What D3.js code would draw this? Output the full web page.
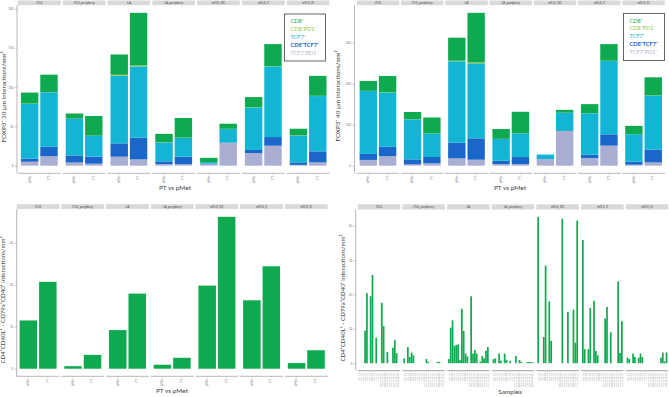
<!DOCTYPE html>
<html><head><meta charset="utf-8">
<script src="https://cdn.jsdelivr.net/npm/d3@7"></script>
<style>body{margin:0;background:#fff}svg{display:block;font-family:Lato,"Open Sans",sans-serif}</style>
</head><body><svg id="c" width="669" height="397"></svg>
<script>
// ---------- data ----------
const facets = ["iTLS","iTLS_periphery","LA","LA_periphery","mTLS_GC","mTLS_II","mTLS_III"];
const groups = ["pMet","PT"];
const cellTypes = ["TCF7+PD1+","CD8+TCF7+","TCF7+","CD8+PD1+","CD8+"]; // bottom -> top
const legendLabels = ["CD8⁺","CD8⁺PD1⁺","TCF7⁺","CD8⁺TCF7⁺","TCF7⁺PD1⁺"];
// values ordered facet x group (pMet, PT)
const tcf7pd1_30 = [5,12, 4,2.5, 11.4,8, 2,2, 2,29.2, 16,25.4, 1,4.2];
const cd8tcf7_30 = [4,12, 9,9, 17,27.6, 3.5,9.4, 0.5,0, 4,11, 3.2,14];
const tcf7_30    = [69.5,69.5, 47,26.7, 86,90.7, 24,24, 2,17.4, 54,90, 34,70.4];
const cd8pd1_30  = [0.5,0.3, 0,0, 1.3,1.2, 0.3,0.3, 0,0.3, 0.3,0.3, 0.3,0.3];
const cd8_30     = [14,22, 6.4,25, 25.8,67, 10.7,25, 5.5,6.5, 13,28, 8.5,25.4];

const tcf7pd1_40 = [14,23, 3.3,5.7, 18,14.6, 4,4, 16,84.6, 18.7,48.8, 2.4,8];
const cd8tcf7_40 = [14.5,23, 12,15.4, 38,52, 8,17, 0,0, 8,27.6, 7.4,31];
const tcf7_40    = [153.5,132, 97.6,57, 198.5,183, 53,58, 11,44, 101,178.9, 67,132];
const cd8pd1_40  = [0.5,0.7, 0.4,0.3, 1.5,3, 0.4,0.4, 0,0.5, 0.3,0.5, 0.3,0.4];
const cd8_40     = [24,40, 17.6,39, 56,120, 24,52, 0,7, 22,40.5, 20,44];

const cd40Agg = [11.5,20.7, 0.6,3.3, 9.2,17.9, 0.95,2.6, 19.8,36.2, 16.3,24.4, 1.35,4.4];

const sampleNames = ["P01_PT","P02_PT","P03_PT","P04_PT","P05_PT","P06_PT","P07_PT","P08_PT","P09_PT","P10_PT","P11_PT",
  "P01_pMet_LN","P02_pMet_LN","P03_pMet_LN","P04_pMet_LN","P05_pMet_LN","P06_pMet_LN","P07_pMet_LN","P08_pMet_LN","P09_pMet_LN","P10_pMet_LN","P11_pMet_LN"];
const samp_iTLS      = [0,0,0,9.5,20.4,0,19.5,25.7,0,7.4,0,0,17.6,10.8,0,3.3,0,0,4.5,6.7,2.9,0];
const samp_iTLS_per  = [1.4,0,4.7,1.8,3.1,2.3,0,0,0,0,0,0,1.2,0.4,0,0,0,0,0.4,0.4,0,0];
const samp_LA        = [1.2,10.3,12.5,5.0,5.3,5.5,0.9,15.8,9.4,2.8,2.0,0,19.5,2.8,3.8,2.8,0,0.5,2.1,1.4,3.6,4.7];
const samp_LA_per    = [1.2,1.4,0,2.8,0.7,0,2.8,1.0,0,0.7,0,0,2.1,0,0.9,0.4,0,0,0.3,0.3,0.3,0.3];
const samp_mTLS_GC   = [42.6,0,0,7.6,28.4,0,18,6.5,0,0,0,0,0,42.1,0,0,14.9,0,0,15.6,6.0,41.5];
const samp_mTLS_II   = [35.9,4.1,0,4.1,16.1,0,18.2,3.6,2.3,0,0,0,13.0,16.4,0,9.0,0,0,0,23.8,3.0,12.2];
const samp_mTLS_III  = [1.6,1.2,0,2.8,1.8,0,1.6,2.8,1.8,0,0,0,0,0,0,0,0,0,1.6,3.1,0.5,3.1];

const ticks30 = [0,50,100,150,200];
const ticks40 = [0,100,200,300];
const ticksAgg = [0,10,20,30];
const ticksSamp = [0,10,20,30,40];

// ---------- styles ----------
const colors = {"TCF7+PD1+":"#a9aed2","CD8+TCF7+":"#1a66c9","TCF7+":"#14b4d4","CD8+PD1+":"#8dc63f","CD8+":"#0fa94f"};
const legendColors = ["#0fa94f","#8dc63f","#14b4d4","#1a66c9","#b3b7cf"];
const green = "#0fa94f";
const svg = d3.select("#c");

function panel(cfg){
  const g = svg.append("g");
  const y = d3.scaleLinear().domain([-0.05*cfg.max, 1.05*cfg.max]).range([cfg.axisY, cfg.plotTop]);
  const ya = g.append("g").attr("transform",`translate(${cfg.axisX},0)`)
    .call(d3.axisLeft(y).tickValues(cfg.ticks).tickSize(2).tickPadding(1.5));
  ya.select(".domain").remove();
  ya.selectAll(".tick line").attr("stroke","#999").attr("stroke-width",0.6);
  ya.selectAll(".tick text").attr("font-size",3).attr("fill","#777").attr("font-family","Lato");
  g.append("line").attr("x1",cfg.axisX).attr("x2",cfg.axisX).attr("y1",cfg.plotTop).attr("y2",cfg.axisY)
    .attr("stroke","#999").attr("stroke-width",0.7);
  facets.forEach((f,i)=>{
    const x0 = cfg.fx0 + i*cfg.fstep, x1 = x0 + cfg.fw;
    g.append("rect").attr("x",x0).attr("y",cfg.stripTop).attr("width",cfg.fw).attr("height",cfg.stripH).attr("fill","#d9d9d9");
    g.append("text").attr("x",(x0+x1)/2).attr("y",cfg.stripTop+cfg.stripH/2+1.1).attr("text-anchor","middle")
      .attr("font-size",3.2).attr("fill","#444").text(f);
    const xb = d3.scaleBand().domain(cfg.cats).range([x0,x1]).paddingInner(cfg.pi).paddingOuter(cfg.po);
    cfg.draw(g, xb, y, i);
    g.append("line").attr("x1",x0).attr("x2",x1).attr("y1",cfg.axisY).attr("y2",cfg.axisY).attr("stroke","#999").attr("stroke-width",0.7);
    cfg.cats.forEach(c=>{
      const cx = xb(c)+xb.bandwidth()/2;
      g.append("line").attr("x1",cx).attr("x2",cx).attr("y1",cfg.axisY).attr("y2",cfg.axisY+1.5).attr("stroke","#999").attr("stroke-width",0.4);
      g.append("text").attr("transform",`translate(${cx+0.9},${cfg.axisY+2.5}) rotate(-90)`)
        .attr("text-anchor","end").attr("font-size",cfg.xlabSize).attr("fill","#888").text(c);
    });
  });
  g.append("text").attr("x",cfg.xtX).attr("y",cfg.xtY).attr("text-anchor","middle").attr("font-size",6.5).attr("fill","#444").text(cfg.xTitle);
  g.append("text").attr("transform",`translate(${cfg.ytX},${cfg.ytY}) rotate(-90)`).attr("text-anchor","middle")
    .attr("font-size",cfg.ytSize).attr("fill","#444").text(cfg.yTitle);
  return g;
}

function stackDraw(series){
  return (g, xb, y, fi)=>{
    groups.forEach((gr,gi)=>{
      const k = fi*2+gi;
      const row = {}; cellTypes.forEach((c,ci)=>row[c]=series[ci][k]);
      const st = d3.stack().keys(cellTypes)([row]);
      st.forEach(s=>{
        const d = s[0];
        if (d[1]-d[0] <= 0) return;
        g.append("rect").attr("x",xb(gr)).attr("width",xb.bandwidth())
          .attr("y",y(d[1])).attr("height",y(d[0])-y(d[1])).attr("fill",colors[s.key]);
      });
    });
  };
}
function legend(x,y){
  const g = svg.append("g");
  g.append("rect").attr("x",x).attr("y",y).attr("width",41).attr("height",47).attr("fill","#fff").attr("stroke","#555").attr("stroke-width",0.9);
  legendLabels.forEach((l,i)=>{
    g.append("text").attr("x",x+6).attr("y",y+9+i*7.9).attr("font-size",5.6).attr("fill",legendColors[i])
      .attr("font-weight", i===3?700:400).text(l);
  });
}
const s30 = [tcf7pd1_30,cd8tcf7_30,tcf7_30,cd8pd1_30,cd8_30];
const s40 = [tcf7pd1_40,cd8tcf7_40,tcf7_40,cd8pd1_40,cd8_40];
const max30 = d3.max(groups.flatMap((g,gi)=>facets.map((f,fi)=>d3.sum(s30,s=>s[fi*2+gi]))));
const max40 = d3.max(groups.flatMap((g,gi)=>facets.map((f,fi)=>d3.sum(s40,s=>s[fi*2+gi]))));

panel({max:max30, ticks:ticks30, axisX:17, axisY:173.3, plotTop:5.2, fx0:18, fstep:44.8, fw:42.6, stripTop:0.5, stripH:4.7,
  cats:groups, pi:0.1, po:0.15, xlabSize:3.2, draw:stackDraw(s30), xTitle:"PT vs pMet", xtX:175, xtY:190,
  yTitle:"FOXP3⁺ 30 µm interactions/mm²", ytX:5.5, ytY:97, ytSize:6.3});
legend(284.5,14);
panel({max:max40, ticks:ticks40, axisX:354.5, axisY:173.3, plotTop:5.2, fx0:356.7, fstep:44.27, fw:42.5, stripTop:0.5, stripH:4.7,
  cats:groups, pi:0.1, po:0.15, xlabSize:3.2, draw:stackDraw(s40), xTitle:"PT vs pMet", xtX:510, xtY:190,
  yTitle:"FOXP3⁺ 40 µm interactions/mm²", ytX:340, ytY:96, ytSize:6.3});
legend(623.5,13.5);

panel({max:d3.max(cd40Agg), ticks:ticksAgg, axisX:16.7, axisY:376.3, plotTop:209.2, fx0:16.7, fstep:44.7, fw:42.8, stripTop:204.2, stripH:4.8,
  cats:groups, pi:0.1, po:0.15, xlabSize:3.2, xTitle:"PT vs pMet", xtX:172, xtY:393,
  draw:(g,xb,y,fi)=>{groups.forEach((gr,gi)=>{const v=cd40Agg[fi*2+gi];
    g.append("rect").attr("x",xb(gr)).attr("width",xb.bandwidth()).attr("y",y(v)).attr("height",y(0)-y(v)).attr("fill",green);});},
  yTitle:"CD4⁺CD40L⁺ - CD79a⁺CD40⁺ interactions/mm²", ytX:5, ytY:300, ytSize:6.1});

const sampSets = [samp_iTLS,samp_iTLS_per,samp_LA,samp_LA_per,samp_mTLS_GC,samp_mTLS_II,samp_mTLS_III];
const maxSamp = d3.max(sampSets.flat());
panel({max:maxSamp, ticks:ticksSamp, axisX:355.7, axisY:370.5, plotTop:209.6, fx0:357.7, fstep:44.67, fw:42.6, stripTop:204.3, stripH:5.2,
  cats:sampleNames, pi:0.08, po:0.5, xlabSize:2.2, xTitle:"Samples", xtX:510, xtY:394,
  draw:(g,xb,y,fi)=>{sampleNames.forEach((s,si)=>{const v=sampSets[fi][si]; if(v<=0) return;
    g.append("rect").attr("x",xb(s)).attr("width",xb.bandwidth()).attr("y",y(v)).attr("height",y(0)-y(v)).attr("fill",green);});},
  yTitle:"CD4⁺CD40L⁺ - CD79a⁺CD40⁺ interactions/mm²", ytX:345, ytY:298, ytSize:6.1});
</script></body></html>
